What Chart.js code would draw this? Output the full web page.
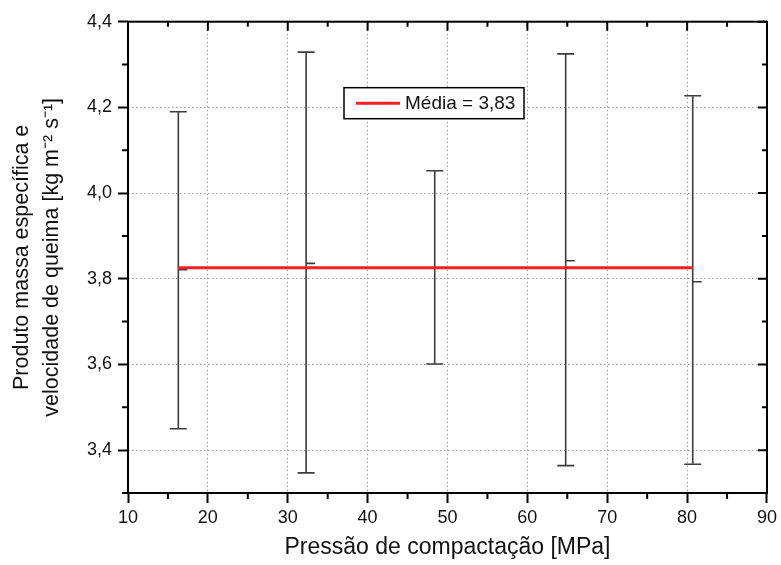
<!DOCTYPE html>
<html>
<head>
<meta charset="utf-8">
<script src="https://cdn.jsdelivr.net/npm/chart.js@4.4.1/dist/chart.umd.min.js"></script>
<style>
  html, body { margin: 0; padding: 0; background: #fff; }
  #wrap { width: 781px; height: 565px; }
</style>
</head>
<body>
<div id="wrap"><canvas id="chart"></canvas></div>
<script>
// values
const pressure = [16.3, 32.3, 48.4, 64.8, 80.7];
const meanVal  = [3.821, 3.836, 3.825, 3.842, 3.793];
const lowVal   = [3.450, 3.347, 3.601, 3.364, 3.367];
const highVal  = [4.190, 4.329, 4.052, 4.325, 4.227];
const overallMean = 3.826;
const meanLabel = 'Média = 3,83';

const xTicks = [10, 20, 30, 40, 50, 60, 70, 80, 90];
const xMinor = [15, 25, 35, 45, 55, 65, 75, 85];
const yTicks = [3.4, 3.6, 3.8, 4.0, 4.2, 4.4];
const yMinor = [3.3, 3.5, 3.7, 3.9, 4.1, 4.3];

Chart.defaults.font.family = '"Liberation Sans", Arial, sans-serif';
Chart.defaults.color = '#111';

const BAR = '#3c3c3c';

// error bars + mean dash, under the red line
const errorBars = {
  id: 'errorBars',
  beforeDatasetsDraw(chart) {
    const { ctx, scales: { x, y } } = chart;
    ctx.save();
    ctx.strokeStyle = BAR;
    ctx.lineWidth = 1.6;
    pressure.forEach((p, i) => {
      const px = x.getPixelForValue(p);
      const yl = y.getPixelForValue(lowVal[i]);
      const yh = y.getPixelForValue(highVal[i]);
      const ym = y.getPixelForValue(meanVal[i]);
      ctx.beginPath();
      ctx.moveTo(px, yl); ctx.lineTo(px, yh);
      ctx.moveTo(px - 8.5, yl); ctx.lineTo(px + 8.5, yl);
      ctx.moveTo(px - 8.5, yh); ctx.lineTo(px + 8.5, yh);
      ctx.moveTo(px, ym); ctx.lineTo(px + 9, ym);
      ctx.stroke();
    });
    ctx.restore();
  }
};

// frame, minor ticks, mirrored inner ticks, legend box
const frame = {
  id: 'frame',
  afterDraw(chart) {
    const { ctx, chartArea: a, scales: { x, y } } = chart;
    ctx.save();
    ctx.strokeStyle = '#000';
    ctx.lineWidth = 2;
    ctx.strokeRect(a.left, a.top, a.right - a.left, a.bottom - a.top);

    ctx.beginPath();
    xTicks.forEach(v => {
      const px = x.getPixelForValue(v);
      ctx.moveTo(px, a.top); ctx.lineTo(px, a.top + 9);
    });
    xMinor.forEach(v => {
      const px = x.getPixelForValue(v);
      ctx.moveTo(px, a.bottom); ctx.lineTo(px, a.bottom + 6);
      ctx.moveTo(px, a.top); ctx.lineTo(px, a.top + 5);
    });
    yTicks.forEach(v => {
      const py = y.getPixelForValue(v);
      ctx.moveTo(a.right, py); ctx.lineTo(a.right - 9, py);
    });
    yMinor.forEach(v => {
      const py = y.getPixelForValue(v);
      ctx.moveTo(a.left, py); ctx.lineTo(a.left - 6, py);
      ctx.moveTo(a.right, py); ctx.lineTo(a.right - 5, py);
    });
    ctx.stroke();

    // legend
    const bx = a.left + 216, by = a.top + 66, bw = 180, bh = 31;
    ctx.fillStyle = '#fff';
    ctx.fillRect(bx, by, bw, bh);
    ctx.lineWidth = 1.5;
    ctx.strokeRect(bx, by, bw, bh);
    ctx.strokeStyle = '#ff1e1e';
    ctx.lineWidth = 3;
    ctx.beginPath();
    ctx.moveTo(bx + 12, by + bh / 2); ctx.lineTo(bx + 56, by + bh / 2);
    ctx.stroke();
    ctx.fillStyle = '#111';
    ctx.font = '19px "Liberation Sans", Arial, sans-serif';
    ctx.textBaseline = 'middle';
    ctx.fillText(chart.data.datasets[0].label, bx + 61, by + bh / 2 + 1);
    ctx.restore();
  }
};

const gridCommon = {
  color: '#9a9a9a',
  lineWidth: 1,
  tickLength: 10,
  tickColor: '#000',
  tickWidth: 2
};

new Chart(document.getElementById('chart'), {
  type: 'scatter',
  data: {
    datasets: [
      {
        label: meanLabel,
        data: [{ x: pressure[0], y: overallMean }, { x: pressure[pressure.length - 1], y: overallMean }],
        showLine: true,
        borderColor: '#ff1e1e',
        borderWidth: 3,
        pointRadius: 0
      },
      {
        label: 'Medidas',
        data: pressure.map((p, i) => ({ x: p, y: meanVal[i] })),
        pointRadius: 0,
        showLine: false
      }
    ]
  },
  options: {
    responsive: true,
    maintainAspectRatio: false,
    animation: false,
    layout: { padding: { top: 21.7, right: 13, left: 0, bottom: 0 } },
    plugins: { legend: { display: false }, tooltip: { enabled: false } },
    scales: {
      x: {
        type: 'linear',
        min: 10, max: 90,
        afterBuildTicks: s => { s.ticks = xTicks.map(v => ({ value: v })); },
        afterFit: s => { s.height = 72; },
        ticks: { font: { size: 18 }, padding: 4, color: '#111', maxRotation: 0 },
        grid: gridCommon,
        border: { display: false, dash: [1.5, 2.5] },
        title: {
          display: true,
          text: 'Pressão de compactação [MPa]',
          font: { size: 23, lineHeight: 1.2 },
          color: '#111',
          padding: { top: 0, bottom: 4 }
        }
      },
      y: {
        type: 'linear',
        min: 3.3, max: 4.4,
        afterBuildTicks: s => { s.ticks = yTicks.map(v => ({ value: v })); },
        afterFit: s => { s.width = 128; },
        ticks: {
          font: { size: 18 }, padding: 6, color: '#111',
          callback: v => v.toFixed(1).replace('.', ',')
        },
        grid: gridCommon,
        border: { display: false, dash: [1.5, 2.5] },
        title: {
          display: true,
          text: ['Produto massa específica e', 'velocidade de queima [kg m⁻² s⁻¹]'],
          font: { size: 21.5, lineHeight: 1.4 },
          color: '#111',
          padding: { top: 7, bottom: 0 }
        }
      }
    }
  },
  plugins: [errorBars, frame]
});
</script>
</body>
</html>
